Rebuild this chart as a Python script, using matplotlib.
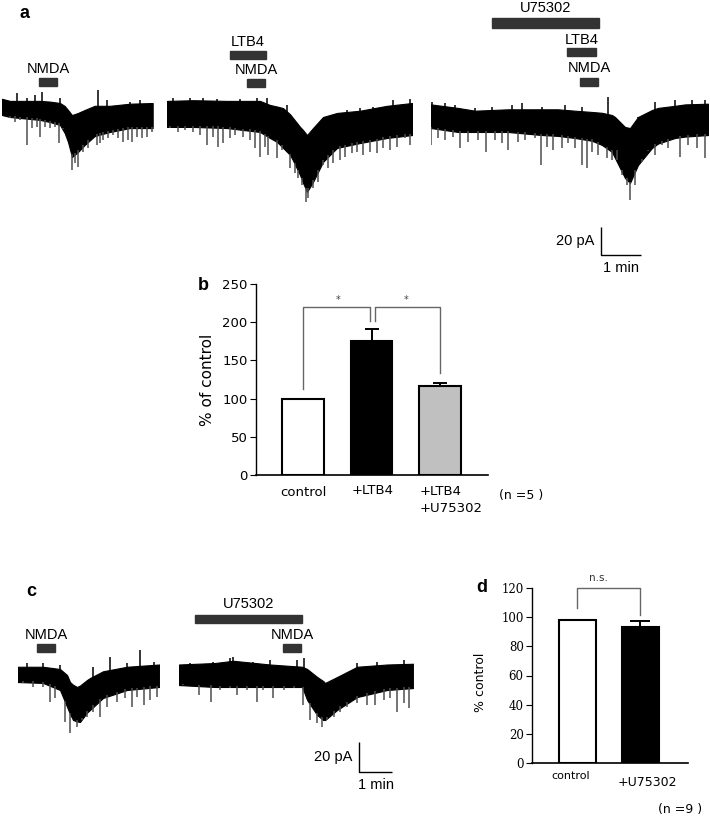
import numpy as np
import matplotlib
matplotlib.use("Agg")
import matplotlib.pyplot as plt
import matplotlib.transforms as mtransforms
from matplotlib.patches import Rectangle

# ---- trace envelopes (time in s, current in pA) ----
# panel a, trace 1 (control NMDA)
A1_T = [0, 12, 27, 57, 72, 87, 94, 99, 105, 114, 124, 139, 162, 192, 226]
A1_UP = [8.0, 6.5, 6.5, 6.5, 6.0, 5.0, 2.9, 0.0, -3.6, -2.1, 0.0, 3.0, 3.0, 4.5, 5.0]
A1_LO = [-3.6, -5.0, -5.7, -7.1, -8.6, -10.7, -16.4, -22.8, -33.6, -30.0, -25.0, -18.6, -15.7, -12.9, -12.9]
A1_SPK_T = [12, 19.5, 27, 37, 44.5, 52, 57, 64.5, 72, 79.5, 86, 92, 104.5, 109.5, 114.5,
            122, 129.5, 142, 147, 152, 159.5, 167, 174.5, 182, 189.5, 194.5, 202, 209.5, 217, 224.5]
A1_SPK_I = [-6.0, -8.3, -7.1, -25.0, -13.1, -11.9, -19.0, -11.9, -13.1, -11.9, -23.8, -13.1, -42.9, -38.1, -40.5,
            -29.8, -27.4, -25.0, -23.8, -21.4, -20.2, -17.9, -20.2, -22.6, -21.4, -22.6, -19.0, -20.2, -19.0, -15.5]
A1_UPK_T = [22, 37, 49.5, 59.5, 87, 144.5, 157, 192, 207]
A1_UPK_I = [11.9, 8.3, 10.7, 13.1, 8.3, 14.3, 7.1, 6.0, 7.1]

# panel a, trace 2 (LTB4 + NMDA)
A2_T = [0, 39, 90, 139.5, 154.5, 165, 174, 184.5, 189, 199.5, 204, 210, 219, 234, 255, 289.5, 330, 367.5]
A2_UP = [6.5, 7.0, 6.5, 6.5, 3.6, 2.5, 1.4, -3.0, -5.7, -12.0, -14.3, -17.9, -12.9, -5.0, -2.1, -0.5, 3.0, 5.0]
A2_LO = [-12.1, -12.1, -12.9, -15.7, -20.0, -22.8, -27.0, -32.1, -36.0, -46.4, -52.0, -58.5, -51.4, -37.1, -27.1, -23.6, -20.0, -17.9]
A2_SPK_T = [4.5, 17, 27, 39.5, 49.5, 59.5, 69.5, 77, 84.5, 94.5, 102, 114.5, 124.5, 132, 139.5, 147, 152,
            164.5, 172, 184.5, 192, 197, 202, 208.5, 212, 219.5, 227, 234.5, 242, 249.5, 259.5, 267,
            277, 284.5, 294.5, 304.5, 314.5, 324.5, 334.5, 344.5, 357, 364.5]
A2_SPK_I = [-13.1, -15.5, -14.3, -15.5, -17.9, -25.0, -19.0, -26.2, -23.8, -20.2, -17.9, -19.0, -21.4, -27.4,
            -33.3, -26.2, -32.1, -34.5, -28.6, -41.7, -45.2, -48.8, -53.6, -65.5, -63.1, -56.0, -51.2, -39.3,
            -41.7, -38.1, -35.7, -33.3, -31.0, -29.8, -32.1, -29.8, -31.0, -27.4, -28.6, -26.2, -20.2, -25.0]
A2_UPK_T = [9.5, 34.5, 54.5, 74.5, 109.5, 134.5, 149.5, 179.5, 269.5, 289.5, 309.5, 339.5, 364.5]
A2_UPK_I = [8.3, 8.8, 8.3, 7.9, 7.9, 8.8, 8.3, 3.6, 0.0, 1.2, 2.4, 7.1, 7.9]

# panel a, trace 3 (U75302 + LTB4 + NMDA)
A3_T = [0, 40.5, 66, 115.5, 166.5, 190.5, 216, 241.5, 256.5, 271.5, 276, 291, 298.5, 310.5, 331.5, 340.5, 366, 381, 415.5]
A3_UP = [4.0, 1.5, -0.5, 0.5, 0.5, 0.5, -0.5, -1.4, -2.0, -3.6, -5.0, -12.1, -12.9, -5.0, 0.0, 1.5, 3.0, 4.0, 4.5]
A3_LO = [-12.9, -15.7, -15.7, -15.7, -17.9, -18.5, -20.0, -22.0, -25.0, -30.0, -34.3, -48.6, -52.1, -39.3, -27.1, -24.0, -20.0, -19.0, -17.9]
A3_SPK_T = [0, 11, 21, 33.5, 43.5, 56, 71, 82, 96, 106, 116, 131, 141, 156, 165, 173.5, 183.5, 196, 206, 216,
            226, 233.5, 241, 251, 263.5, 271, 278.5, 286, 293.5, 298.5, 306, 316, 326, 336, 346, 356,
            373.5, 386, 398.5, 411]
A3_SPK_I = [-25.0, -20.2, -21.4, -19.0, -27.4, -22.6, -21.4, -29.8, -21.4, -23.8, -28.6, -22.6, -21.4, -20.2,
            -39.3, -26.2, -28.6, -27.4, -23.8, -27.4, -39.3, -41.7, -29.8, -32.1, -34.5, -35.7, -28.6, -46.4,
            -53.6, -64.3, -53.6, -36.9, -28.6, -32.1, -25.0, -27.4, -33.3, -25.0, -27.4, -34.5]
A3_UPK_T = [1, 21, 36, 66, 91, 121, 136, 166, 201, 226, 266, 311, 336, 366, 391, 411]
A3_UPK_I = [6.0, 4.8, 3.6, 1.2, 2.4, 3.6, 4.8, 2.4, 3.6, 2.4, 9.5, -4.8, 6.0, 7.1, 7.1, 7.1]

# panel c, trace 1 (control NMDA)
C1_T = [0, 45.5, 76.4, 89.2, 94.6, 100.1, 107.4, 112.8, 125.6, 131, 154.7, 198.4, 256.6]
C1_UP = [5.5, 5.5, 4.0, 0.0, -4.7, -6.5, -8.0, -7.0, -3.3, -2.0, 2.5, 5.5, 7.0]
C1_LO = [-4.7, -5.3, -10.0, -21.3, -26.0, -30.0, -31.0, -31.3, -25.0, -23.3, -15.3, -10.0, -8.0]
C1_SPK_T = [9.7, 27.9, 46.1, 58.2, 67.3, 85.6, 94.7, 106.8, 115.9, 125, 137.2, 149.3, 161.4, 179.6,
            194.8, 207, 216.1, 228.2, 240.3, 252.5]
C1_SPK_I = [-5.6, -7.8, -7.8, -17.8, -15.6, -31.1, -38.9, -34.4, -30.0, -27.8, -24.4, -27.8, -21.1,
            -17.8, -15.6, -21.1, -14.4, -20.0, -16.7, -14.4]
C1_UPK_T = [15.8, 46.1, 76.5, 137.2, 167.5, 197.9, 222.2, 246.4]
C1_UPK_I = [7.8, 7.8, 6.7, 5.6, 12.2, 7.8, 16.7, 8.9]

# panel c, trace 2 (U75302 + NMDA)
C2_T = [0, 65.5, 98.3, 165.6, 223.9, 233, 251.2, 262.1, 265.7, 287.6, 324, 378.6, 425.9]
C2_UP = [7.0, 8.0, 9.5, 7.0, 5.5, 4.0, -1.3, -4.0, -5.3, -1.3, 5.5, 7.0, 7.5]
C2_LO = [-6.7, -8.0, -8.0, -8.0, -8.0, -16.7, -26.7, -30.0, -30.0, -23.3, -14.7, -10.0, -8.7]
C2_SPK_T = [7.9, 37, 58.3, 74.7, 92.9, 105, 123.2, 141.4, 153.6, 171.8, 190, 208.2, 225.2, 238.5, 250.7,
            259.8, 268.9, 281, 293.2, 305.3, 323.5, 341.7, 356.9, 372.1, 384.2, 396.4, 408.5, 417.6]
C2_SPK_I = [-6.7, -13.3, -17.8, -10.0, -8.9, -13.3, -10.0, -17.8, -10.0, -15.6, -10.0, -8.9, -20.0, -30.0,
            -32.2, -34.4, -30.0, -27.8, -24.4, -21.1, -18.9, -20.0, -20.0, -16.7, -15.6, -24.4, -18.9, -22.2]
C2_UPK_T = [20, 62.5, 92.9, 99, 135.4, 165.7, 214.3, 226.4, 323.5, 360, 408.5]
C2_UPK_I = [7.8, 8.9, 11.1, 12.2, 8.9, 10.0, 10.0, 11.1, 7.8, 8.9, 10.0]

# drug applications (start s, end s)
A1_NMDA = (55.5, 82.5)
A2_LTB4 = (94.5, 148.5)
A2_NMDA = (120, 147)
A3_U75302 = (91.5, 252)
A3_LTB4 = (204, 247.5)
A3_NMDA = (223.5, 250.5)
C1_NMDA = (34.6, 67.3)
C2_U75302 = (29.1, 223.9)
C2_NMDA = (189.3, 222)

# ---- bar chart values ----
B_LABELS = ["control", "+LTB4", "+LTB4\n+U75302"]
B_MEANS = [100, 176, 117]
B_ERR = [0, 15, 3.5]
B_COLORS = ["white", "black", "#c0c0c0"]

D_LABELS = ["control", "+U75302"]
D_MEANS = [98, 93.5]
D_ERR = [0, 4]
D_COLORS = ["white", "black"]

W, H = 710, 818
fig = plt.figure(figsize=(W / 100, H / 100), dpi=100)
TRACE_FONT = "Liberation Sans"


def fx(x):
    return x / W


def fy(y):
    return 1 - y / H


def px_axes(x0, y0, x1, y1):
    return fig.add_axes([fx(x0), fy(y1), (x1 - x0) / W, (y1 - y0) / H])


def trace_axes(x0, t_end, y_top, y_bot, row0, px_s, px_pa):
    ax = px_axes(x0, y_top, x0 + t_end * px_s, y_bot)
    ax.set_xlim(0, t_end)
    ax.set_ylim((row0 - y_bot) / px_pa, (row0 - y_top) / px_pa)
    ax.axis("off")
    return ax


def draw_trace(ax, t, up, lo, spk_t, spk_i, upk_t, upk_i):
    ax.fill_between(t, lo, up, color="black", lw=0.8)
    if spk_t:
        base = np.interp(spk_t, t, lo) + 1.0
        ax.vlines(spk_t, spk_i, base, color="#4e4e4e", lw=1.1)
    if upk_t:
        top = np.interp(upk_t, t, up) - 1.0
        ax.vlines(upk_t, top, upk_i, color="black", lw=1.1)


def drug_bar(ax, span, y0, y1, label, label_y):
    tr = mtransforms.blended_transform_factory(ax.transData, fig.transFigure)
    ax.add_patch(Rectangle((span[0], fy(y1)), span[1] - span[0], fy(y0) - fy(y1),
                           transform=tr, color="#333333", clip_on=False))
    ax.text((span[0] + span[1]) / 2, fy(label_y), label, transform=tr, ha="center",
            va="center", fontsize=10.5, family=TRACE_FONT)


def scale_bar(ax, t0, i0, px_s, px_pa):
    ax.plot([t0, t0, t0 + 60], [i0 + 20, i0, i0], color="black", lw=1.0,
            clip_on=False, solid_capstyle="butt")
    ax.text(t0 - 7 / px_s, i0 + 10, "20 pA", ha="right", va="center",
            fontsize=10.5, family=TRACE_FONT)
    ax.text(t0 + 30, i0 - 13 / px_pa, "1 min", ha="center", va="center",
            fontsize=10.5, family=TRACE_FONT)


# ---- panel a ----
APX_S, APX_PA = 40 / 60, 28 / 20
ax_a1 = trace_axes(2, A1_T[-1], 60, 230, 110, APX_S, APX_PA)
ax_a2 = trace_axes(167, A2_T[-1], 60, 230, 110, APX_S, APX_PA)
ax_a3 = trace_axes(431, A3_T[-1], 60, 230, 110, APX_S, APX_PA)
draw_trace(ax_a1, A1_T, A1_UP, A1_LO, A1_SPK_T, A1_SPK_I, A1_UPK_T, A1_UPK_I)
draw_trace(ax_a2, A2_T, A2_UP, A2_LO, A2_SPK_T, A2_SPK_I, A2_UPK_T, A2_UPK_I)
draw_trace(ax_a3, A3_T, A3_UP, A3_LO, A3_SPK_T, A3_SPK_I, A3_UPK_T, A3_UPK_I)
drug_bar(ax_a1, A1_NMDA, 78, 86, "NMDA", 69)
drug_bar(ax_a2, A2_LTB4, 51, 59, "LTB4", 42)
drug_bar(ax_a2, A2_NMDA, 79, 87, "NMDA", 70)
drug_bar(ax_a3, A3_U75302, 18, 28, "U75302", 8)
drug_bar(ax_a3, A3_LTB4, 48, 56, "LTB4", 40)
drug_bar(ax_a3, A3_NMDA, 78, 86, "NMDA", 68)
scale_bar(ax_a3, 255, -103.5, APX_S, APX_PA)

# ---- panel c ----
CPX_S, CPX_PA = 33 / 60, 30 / 20
ax_c1 = trace_axes(18, C1_T[-1], 630, 760, 675, CPX_S, CPX_PA)
ax_c2 = trace_axes(179, C2_T[-1], 630, 760, 675, CPX_S, CPX_PA)
draw_trace(ax_c1, C1_T, C1_UP, C1_LO, C1_SPK_T, C1_SPK_I, C1_UPK_T, C1_UPK_I)
draw_trace(ax_c2, C2_T, C2_UP, C2_LO, C2_SPK_T, C2_SPK_I, C2_UPK_T, C2_UPK_I)
drug_bar(ax_c1, C1_NMDA, 644, 652, "NMDA", 635)
drug_bar(ax_c2, C2_U75302, 615, 623, "U75302", 604)
drug_bar(ax_c2, C2_NMDA, 644, 652, "NMDA", 635)
scale_bar(ax_c2, 327.6, -64.7, CPX_S, CPX_PA)

# ---- panel b ----
axb = px_axes(256, 284, 488, 475)
xb = np.arange(len(B_MEANS))
axb.bar(xb, B_MEANS, width=0.6, color=B_COLORS, edgecolor="black", lw=1.5, zorder=2)
axb.errorbar(xb[1:], B_MEANS[1:], yerr=[[0] * 2, B_ERR[1:]], fmt="none",
             ecolor="black", elinewidth=1.4, capsize=5, capthick=1.4, zorder=1)
axb.set_xlim(-0.686, 2.70)
axb.set_ylim(0, 250)
axb.set_yticks(range(0, 251, 50))
axb.set_xticks([])
for s in ("top", "right"):
    axb.spines[s].set_visible(False)
axb.spines["left"].set_linewidth(1.0)
axb.spines["bottom"].set_linewidth(1.2)
axb.tick_params(axis="y", direction="out", length=4, labelsize=9.5, pad=2)
axb.plot([0, 0, 0.98, 0.98], [113, 220, 220, 202], color="#666666", lw=1.0, clip_on=False)
axb.plot([1.05, 1.05, 2.0, 2.0], [202, 220, 220, 133], color="#666666", lw=1.0, clip_on=False)
axb.text(0.51, 229, "*", ha="center", va="center", fontsize=7, color="#444444")
axb.text(1.5, 229, "*", ha="center", va="center", fontsize=7, color="#444444")
fig.text(fx(303), fy(492), B_LABELS[0], ha="center", va="center", fontsize=9.5)
fig.text(fx(373), fy(491), B_LABELS[1], ha="center", va="center", fontsize=9.5)
fig.text(fx(420), fy(500), B_LABELS[2], ha="left", va="center", fontsize=9.5,
         multialignment="left", linespacing=1.5)
fig.text(fx(521), fy(495), "(n =5 )", ha="center", va="center", fontsize=9)
fig.text(fx(207), fy(380), "% of control", rotation=90, ha="center", va="center", fontsize=11)

# ---- panel d ----
axd = px_axes(532, 588, 688, 763)
xd = np.arange(len(D_MEANS))
axd.bar(xd, D_MEANS, width=0.59, color=D_COLORS, edgecolor="black", lw=1.5, zorder=2)
axd.errorbar(xd[1:], D_MEANS[1:], yerr=[[0], D_ERR[1:]], fmt="none",
             ecolor="black", elinewidth=1.4, capsize=7, capthick=1.4, zorder=1)
axd.set_xlim(-0.722, 1.754)
axd.set_ylim(0, 120)
axd.set_yticks(range(0, 121, 20))
axd.set_xticks([])
for s in ("top", "right"):
    axd.spines[s].set_visible(False)
axd.spines["left"].set_linewidth(1.0)
axd.spines["bottom"].set_linewidth(1.2)
axd.tick_params(axis="y", direction="out", length=4, labelsize=8.5, pad=2)
for lab in axd.get_yticklabels():
    lab.set_family("DejaVu Serif")
axd.plot([0, 0, 0.99, 0.99], [106.5, 120, 120, 101.7], color="#666666", lw=1.0, clip_on=False)
axd.text(0.33, 127, "n.s.", ha="center", va="center", fontsize=7.5, color="#333333")
fig.text(fx(571), fy(776), D_LABELS[0], ha="center", va="center", fontsize=8)
fig.text(fx(647), fy(782), D_LABELS[1], ha="center", va="center", fontsize=9)
fig.text(fx(680), fy(809), "(n =9 )", ha="center", va="center", fontsize=9)
fig.text(fx(480), fy(682), "% control", rotation=90, ha="center", va="center", fontsize=9)

# ---- panel letters ----
for letter, x, y in [("a", 25, 13), ("b", 203, 286), ("c", 31, 592), ("d", 482, 587)]:
    fig.text(fx(x), fy(y), letter, ha="center", va="center", fontsize=13,
             fontweight="bold", family=TRACE_FONT)

fig.savefig("out.png", dpi=100)
